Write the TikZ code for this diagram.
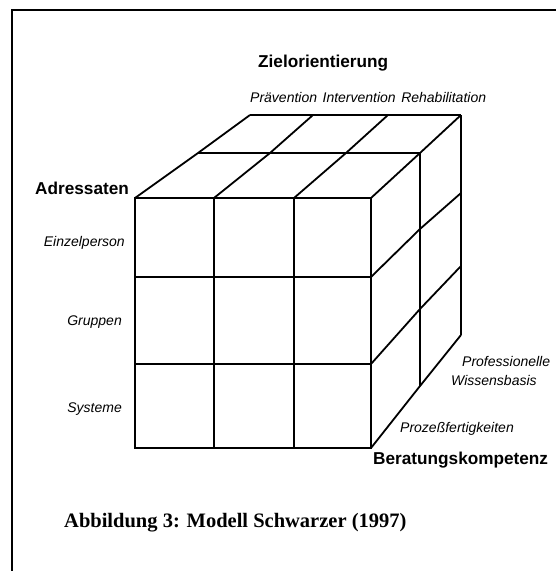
\documentclass[tikz,border=0pt]{standalone}
\usepackage{fontspec}
\setmainfont{Liberation Serif}
\newfontfamily\hv{Liberation Sans}
\begin{document}
\begin{tikzpicture}[x=1pt,y=-1pt,
  cube/.style={line width=1.8pt, line join=miter, line cap=butt},
  frame/.style={line width=2.4pt},
  axistitle/.style={font=\hv\bfseries\fontsize{17.2}{20}\selectfont, inner sep=0pt},
  lab/.style={font=\hv\itshape\fontsize{14}{16}\selectfont, inner sep=0pt},
  capt/.style={font=\bfseries\fontsize{20.5}{24}\selectfont, inner sep=0pt}]
\useasboundingbox (0,0) rectangle (556,571);
% frame (only top and left sides visible)
\draw[frame] (12,571) -- (12,10) -- (556,10);
% grid coordinates: top face
\coordinate (f0) at (135,198); \coordinate (f1) at (214,198);
\coordinate (f2) at (294,198); \coordinate (f3) at (371,198);
\coordinate (m0) at (198,153); \coordinate (m1) at (270,153);
\coordinate (m2) at (346,153); \coordinate (m3) at (420,153);
\coordinate (b0) at (250,115); \coordinate (b1) at (313,115);
\coordinate (b2) at (388,115); \coordinate (b3) at (461,115);
% right face levels
\coordinate (fr1) at (371,277); \coordinate (fr2) at (371,364); \coordinate (fr3) at (371,448);
\coordinate (mr1) at (420,229); \coordinate (mr2) at (420,309); \coordinate (mr3) at (420,386);
\coordinate (br1) at (461,193); \coordinate (br2) at (461,266); \coordinate (br3) at (461,335);
% front face
\draw[cube] (135,198) rectangle (371,448);
\draw[cube] (214,198) -- (214,448);
\draw[cube] (294,198) -- (294,448);
\draw[cube] (135,277) -- (fr1);
\draw[cube] (135,364) -- (fr2);
% top face
\draw[cube] (b0) -- (b3);
\draw[cube] (m0) -- (m3);
\draw[cube] (f0) -- (m0) -- (b0);
\draw[cube] (f1) -- (m1) -- (b1);
\draw[cube] (f2) -- (m2) -- (b2);
\draw[cube] (f3) -- (m3) -- (b3);
% right face
\draw[cube] (m3) -- (mr3);
\draw[cube] (b3) -- (br3);
\draw[cube] (fr1) -- (mr1) -- (br1);
\draw[cube] (fr2) -- (mr2) -- (br2);
\draw[cube] (fr3) -- (mr3) -- (br3);
% labels
\node[axistitle, anchor=base west] (ziel) at (258,67) {Zielorientierung};
\node[lab, anchor=base west] (zstufen) at (250,102) {Prävention\hspace{5.5pt}Intervention\hspace{5.5pt}Rehabilitation};
\node[axistitle, anchor=base west] (adr) at (35,194) {Adressaten};
\node[lab, anchor=base east] (einz) at (125,246) {Einzelperson};
\node[lab, anchor=base east] (grup) at (122,325) {Gruppen};
\node[lab, anchor=base east] (syst) at (122,412) {Systeme};
\node[lab, anchor=base west] (prof) at (462,366) {Professionelle};
\node[lab, anchor=base west] (wiss) at (451,385) {Wissensbasis};
\node[lab, anchor=base west] (proz) at (400,432) {Prozeßfertigkeiten};
\node[axistitle, anchor=base west] (berat) at (373,464) {Beratungskompetenz};
\node[capt, anchor=base west] (caption) at (64,527) {Abbildung 3: Modell Schwarzer (1997)};
\end{tikzpicture}
\end{document}
